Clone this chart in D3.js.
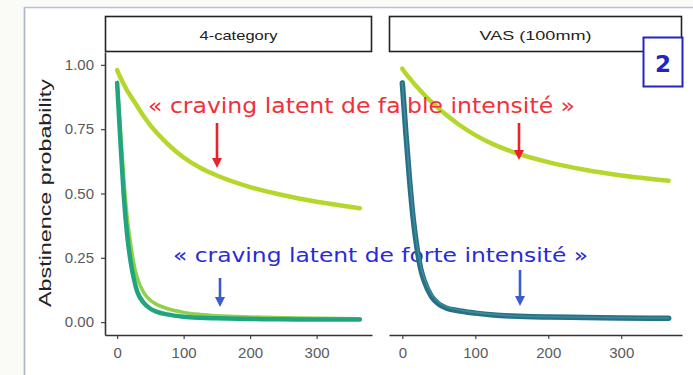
<!DOCTYPE html>
<html><head><meta charset="utf-8">
<script src="https://cdn.jsdelivr.net/npm/d3@7"></script>
<style>body{margin:0;background:#fafaf6} svg{display:block}</style>
</head><body><svg id="c" width="693" height="375"></svg>
<script>
// ---------------- data ----------------
const panels = ["4-category", "VAS (100mm)"];
const days = [0, 5, 10, 15, 20, 25, 30, 40, 50, 60, 75, 100, 125, 150, 200, 250, 300, 365];
// 4-category panel
const catWeak   = [0.98, 0.95, 0.925, 0.90, 0.88, 0.86, 0.84, 0.80, 0.765, 0.735, 0.695, 0.64, 0.60, 0.57, 0.525, 0.493, 0.468, 0.443];
const catStrongA= [0.93, 0.70, 0.49, 0.34, 0.24, 0.17, 0.12, 0.075, 0.052, 0.04, 0.03, 0.021, 0.017, 0.015, 0.012, 0.011, 0.01, 0.01];
const catStrongB= [0.93, 0.75, 0.56, 0.41, 0.31, 0.23, 0.175, 0.115, 0.085, 0.068, 0.053, 0.038, 0.03, 0.025, 0.02, 0.017, 0.015, 0.013];
// VAS panel
const vasWeak   = [0.985, 0.965, 0.948, 0.931, 0.915, 0.899, 0.884, 0.856, 0.83, 0.806, 0.773, 0.727, 0.691, 0.663, 0.622, 0.592, 0.57, 0.55];
const vasStrongA= [0.93, 0.73, 0.55, 0.40, 0.29, 0.21, 0.16, 0.10, 0.07, 0.055, 0.045, 0.035, 0.028, 0.024, 0.02, 0.018, 0.016, 0.015];
const vasStrongB= [0.93, 0.74, 0.565, 0.415, 0.305, 0.225, 0.172, 0.11, 0.078, 0.061, 0.049, 0.038, 0.03, 0.025, 0.021, 0.019, 0.017, 0.016];
const xTicks = [0, 100, 200, 300];
const yTicks = [0, 0.25, 0.50, 0.75, 1.00];
const yTitle = "Abstinence probability";
const noteWeak = "« craving latent de faible intensité »";
const noteStrong = "« craving latent de forte intensité »";
const panelNumber = "2";

const colWeak = "#b5d62a", colStrongA = "#22a57f", colStrongB = "#8fd14a",
      colVasA = "#2a6f88", colVasB = "#3a8c98";

// ---------------- layout ----------------
const svg = d3.select("#c");
const plotTop = 52, plotBottom = 335;
const geo = [{x0: 105, x1: 372}, {x0: 389, x1: 682}];
const y = d3.scaleLinear().domain([-0.05, 1.05]).range([plotBottom, plotTop]);
const xs = geo.map(g => d3.scaleLinear().domain([-18.25, 383.25]).range([g.x0, g.x1]));

// outer slide frame
svg.append("rect").attr("x", 24).attr("y", 7).attr("width", 669).attr("height", 368).attr("fill", "#ffffff");
svg.append("line").attr("x1", 24.5).attr("x2", 24.5).attr("y1", 7).attr("y2", 375).attr("stroke", "#a9b7cb").attr("stroke-width", 1.6);
svg.append("line").attr("x1", 24).attr("x2", 693).attr("y1", 7.5).attr("y2", 7.5).attr("stroke", "#b4c2d4").attr("stroke-width", 1.4);

// strips
panels.forEach((p, i) => {
  const g = geo[i];
  svg.append("rect").attr("x", g.x0 + 0.5).attr("y", 16.5).attr("width", g.x1 - g.x0 - 1).attr("height", 35)
    .attr("fill", "#fff").attr("stroke", "#222").attr("stroke-width", 1.6);
  svg.append("text").attr("x", (g.x0 + g.x1) / 2).attr("y", 39.5).attr("text-anchor", "middle")
    .attr("font-family", "Liberation Sans, Arial, sans-serif").attr("font-size", 13).attr("fill", "#222")
    .attr("textLength", i === 0 ? 78 : 112).attr("lengthAdjust", "spacingAndGlyphs").text(p);
});

// axes
xs.forEach((x, i) => {
  const ax = svg.append("g").attr("transform", `translate(0,${plotBottom})`)
    .call(d3.axisBottom(x).tickValues(xTicks).tickSize(4).tickSizeOuter(0).tickPadding(8));
  ax.select(".domain").attr("stroke", "#333").attr("stroke-width", 1.6);
  ax.selectAll(".tick line").attr("stroke", "#444").attr("stroke-width", 1.2);
  ax.selectAll("text").attr("font-family", "Liberation Sans, Arial, sans-serif").attr("font-size", 15).attr("fill", "#5a5a5a");
});
const ay = svg.append("g").attr("transform", `translate(${geo[0].x0},0)`)
  .call(d3.axisLeft(y).tickValues(yTicks).tickFormat(d3.format(".2f")).tickSize(4).tickSizeOuter(0).tickPadding(7));
ay.select(".domain").attr("stroke", "#333").attr("stroke-width", 1.6);
ay.selectAll(".tick line").attr("stroke", "#444").attr("stroke-width", 1.2);
ay.selectAll("text").attr("font-family", "Liberation Sans, Arial, sans-serif").attr("font-size", 15).attr("fill", "#5a5a5a");

svg.append("text").attr("transform", `translate(51,193) rotate(-90)`).attr("text-anchor", "middle")
  .attr("font-family", "Liberation Sans, Arial, sans-serif").attr("font-size", 17).attr("fill", "#222")
  .attr("textLength", 228).attr("lengthAdjust", "spacingAndGlyphs").text(yTitle);

// curves
function curve(x, vals, color, w) {
  const line = d3.line().x((d, i) => x(days[i])).y(d => y(d)).curve(d3.curveMonotoneX);
  svg.append("path").attr("d", line(vals)).attr("fill", "none").attr("stroke", color)
    .attr("stroke-width", w).attr("stroke-linecap", "round").attr("stroke-linejoin", "round");
}
curve(xs[0], catWeak, colWeak, 4.5);
curve(xs[1], vasWeak, colWeak, 4.5);

// annotations text
svg.append("text").attr("x", 148).attr("y", 113).attr("font-family", "DejaVu Sans, Verdana, sans-serif")
  .attr("font-size", 21).attr("fill", "#f2303a").attr("textLength", 427).attr("lengthAdjust", "spacingAndGlyphs").text(noteWeak);
svg.append("text").attr("x", 173).attr("y", 262).attr("font-family", "DejaVu Sans, Verdana, sans-serif")
  .attr("font-size", 20).attr("fill", "#2a2ad8").attr("textLength", 415).attr("lengthAdjust", "spacingAndGlyphs").text(noteStrong);

curve(xs[0], catStrongB, colStrongB, 3.5);
curve(xs[0], catStrongA, colStrongA, 4.5);
curve(xs[1], vasStrongA, colVasA, 5.5);
curve(xs[1], vasStrongB, colVasB, 1.6);

// arrows
function arrow(x, y1, y2, color) {
  svg.append("line").attr("x1", x).attr("x2", x).attr("y1", y1).attr("y2", y2 - 8)
    .attr("stroke", color).attr("stroke-width", 2.6);
  svg.append("path").attr("d", `M${x - 5},${y2 - 10} L${x + 5},${y2 - 10} L${x},${y2} Z`).attr("fill", color);
}
arrow(217, 123, 168, "#e8222a");
arrow(519, 123, 160, "#e8222a");
arrow(220, 278, 307, "#3a5ccc");
arrow(520, 270, 306, "#3a5ccc");

// panel number box
svg.append("rect").attr("x", 643.5).attr("y", 37.5).attr("width", 39).attr("height", 49)
  .attr("fill", "#fff").attr("stroke", "#2424c4").attr("stroke-width", 2);
svg.append("text").attr("x", 663).attr("y", 72).attr("text-anchor", "middle")
  .attr("font-family", "DejaVu Sans, Verdana, sans-serif").attr("font-weight", "bold").attr("font-size", 23)
  .attr("fill", "#2424c4").text(panelNumber);
</script></body></html>
